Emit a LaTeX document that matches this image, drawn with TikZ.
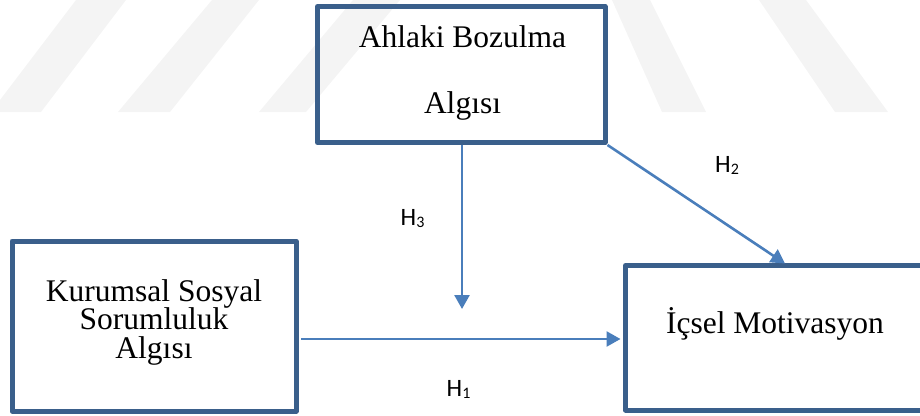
\documentclass[tikz,border=0pt]{standalone}
\usepackage{fontspec}
\setmainfont{Liberation Serif}
\newfontfamily\lblfont{Carlito}
\usetikzlibrary{arrows.meta}
\definecolor{boxc}{HTML}{3A5F8B}
\definecolor{arrc}{HTML}{4A7EBB}
\definecolor{wmc}{HTML}{F4F4F4}
\tikzset{
  box/.style={draw=boxc, line width=5pt, rectangle, inner sep=0pt, line join=round},
  boxtext/.style={anchor=base, inner sep=0pt, font=\fontsize{31.5}{31.5}\selectfont},
  hlabel/.style={anchor=base west, inner sep=0pt, font=\lblfont\fontsize{25}{25}\selectfont},
  arr/.style={draw=arrc, line width=2.6pt, -{Triangle[length=14pt,width=15pt]}},
  wm/.style={fill=wmc, draw=none}
}
\newcommand{\hsub}[2]{H\raisebox{-2pt}{\fontsize{16}{16}\selectfont #2}}
\begin{document}
\begin{tikzpicture}[x=1pt,y=-1pt]
\useasboundingbox (0,0) rectangle (920,415);
\clip (0,0) rectangle (920,415);
% faint watermark stripes
\fill[wm] (76,0) -- (126,0) -- (41,112) -- (0,112) -- (0,100) -- cycle;
\fill[wm] (212,0) -- (259,0) -- (170,112) -- (118,112) -- cycle;
\fill[wm] (353,0) -- (400,0) -- (306,112) -- (259,112) -- cycle;
\fill[wm] (612,0) -- (650,0) -- (706,112) -- (662,112) -- cycle;
\fill[wm] (759,0) -- (806,0) -- (888,112) -- (835,112) -- cycle;
% boxes
\node[box, minimum width=287.5pt, minimum height=136pt] (abm) at (461.25,74.5) {};
\node[box, minimum width=284pt, minimum height=170pt] (kss) at (154,326) {};
\node[box, minimum width=299pt, minimum height=144.5pt] (icm) at (775,337.75) {};
% box texts
\node[boxtext] (abm1) at (462.5,47) {Ahlaki Bozulma};
\node[boxtext] (abm2) at (462.5,113) {Algısı};
\node[boxtext] (kss1) at (154,301) {Kurumsal Sosyal};
\node[boxtext] (kss2) at (154,329.5) {Sorumluluk};
\node[boxtext] (kss3) at (154,358) {Algısı};
\node[boxtext] (icm1) at (775,333) {İçsel Motivasyon};
% connector helpers
\coordinate (h1y) at (0,339);
\coordinate (h3x) at (462,0);
\coordinate (h3end) at (462,309);
\coordinate (h2end) at (785,263.5);
% connectors
\draw[arr, shorten <=2.5pt, shorten >=2.5pt] (kss.east |- h1y) -- (icm.west |- h1y);
\draw[arr] (abm.south -| h3x) -- (h3end);
\draw[arr] (abm.south east) -- (h2end);
% labels
\node[hlabel] (h1) at (446.5,396) {\hsub{H}{1}};
\node[hlabel] (h2) at (715,172) {\hsub{H}{2}};
\node[hlabel] (h3) at (400.5,225) {\hsub{H}{3}};
\end{tikzpicture}
\end{document}
